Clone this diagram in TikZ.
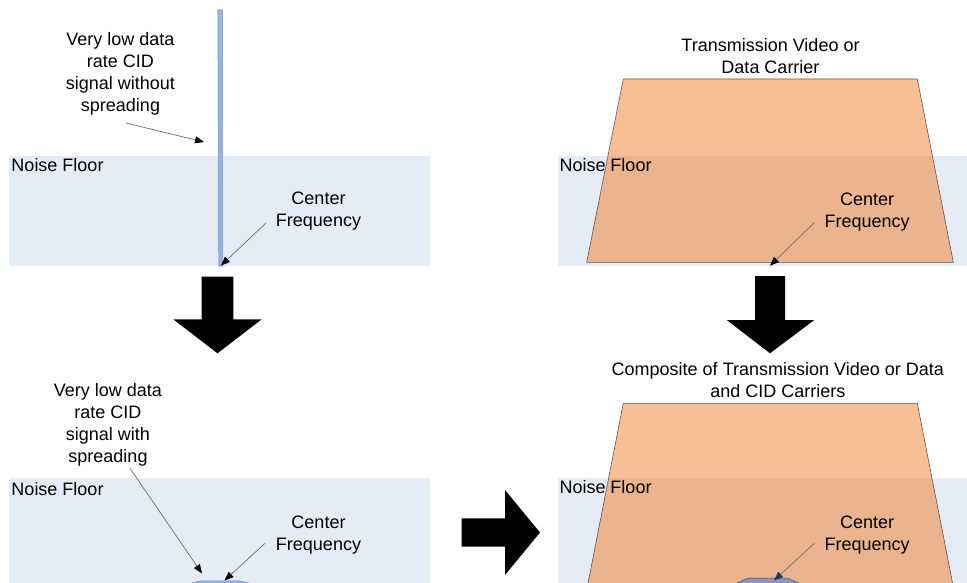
\documentclass[tikz,border=0pt]{standalone}
\usepackage{fontspec}
\setmainfont{Liberation Sans}
\usetikzlibrary{arrows.meta}
\definecolor{noise}{HTML}{E6ECF7}
\definecolor{carrier}{HTML}{F8BF94}
\definecolor{carrierdark}{HTML}{EBB48E}
\definecolor{cid}{HTML}{95B3E0}
\definecolor{cidedge}{HTML}{6F8FC4}
\definecolor{cidmix}{HTML}{8E97B5}
\definecolor{navy}{HTML}{1F3864}
\begin{document}
\begin{tikzpicture}[x=1pt,y=-1pt,
  lbl/.style={font=\fontsize{18pt}{22pt}\selectfont, inner sep=0pt, align=center, text=black},
  noisebox/.style={fill=noise, draw=none},
  leader/.style={draw=gray!85!black, line width=0.7pt, -{Triangle[length=9pt,width=7pt,color=black]}},
  leadernavy/.style={draw=gray!85!black, line width=0.7pt, -{Triangle[length=9pt,width=7pt,color=navy]}},
  carrierbox/.style={draw=gray!70!black, line width=0.6pt},
  blockarrow/.style={fill=black, draw=none}]
\useasboundingbox (0,0) rectangle (967,583);
\clip (0,0) rectangle (967,583);

% ---------- top-left panel ----------
\fill[noisebox] (9,156) rectangle (430,266);
\filldraw[fill=cid, draw=cidedge, line width=0.5pt] (217.8,10) -- (222.5,10) -- (222.3,266) -- (218.8,266) -- cycle;
\node[lbl, anchor=north] (tlsig) at (120.5,32) {Very low data\\rate CID\\signal without\\spreading};
\node[lbl, anchor=north west] (tlnoise) at (11.3,158.5) {Noise Floor};
\node[lbl, anchor=north] (tlcf) at (318.5,192) {Center\\Frequency};
\coordinate (tlsigA) at (126,123);
\coordinate (tlsigB) at (204,142);
\coordinate (tlcfA) at (266,223);
\coordinate (tlcfB) at (221,265.5);
\draw[leader] (tlsigA) -- (tlsigB);
\draw[leader] (tlcfA) -- (tlcfB);

% ---------- top-right panel ----------
\fill[noisebox] (558,156) rectangle (967,266);
\fill[carrier] (623.3,79) -- (917.3,79) -- (953.3,262.3) -- (586.7,262.3) -- cycle;
\begin{scope}
  \clip (623.3,79) -- (917.3,79) -- (953.3,262.3) -- (586.7,262.3) -- cycle;
  \fill[carrierdark] (558,156) rectangle (967,266);
\end{scope}
\draw[carrierbox] (623.3,79) -- (917.3,79) -- (953.3,262.3) -- (586.7,262.3) -- cycle;
\node[lbl, anchor=north] (trtitle) at (770.5,38.5) {Transmission Video or\\Data Carrier};
\node[lbl, anchor=north west] (trnoise) at (559.3,158.5) {Noise Floor};
\node[lbl, anchor=north] (trcf) at (867.2,192.8) {Center\\Frequency};
\coordinate (trcfA) at (814.3,222.7);
\coordinate (trcfB) at (770,265.7);
\draw[leader] (trcfA) -- (trcfB);

% ---------- block arrows ----------
\fill[blockarrow] (201.7,276.7) -- (233.3,276.7) -- (233.3,319.3) -- (261.7,319.3)
  -- (217.5,353.3) -- (173.3,319.3) -- (201.7,319.3) -- cycle;
\fill[blockarrow] (755,276) -- (785,276) -- (785,320) -- (814.3,320)
  -- (770,353.3) -- (726.7,320) -- (755,320) -- cycle;
\fill[blockarrow] (461.7,518.3) -- (505,518.3) -- (505,490) -- (540,532.5)
  -- (505,575) -- (505,546.7) -- (461.7,546.7) -- cycle;

% ---------- bottom-left panel ----------
\fill[noisebox] (9,478.3) rectangle (430,590);
\filldraw[fill=cid, draw=cidedge, line width=0.5pt] (182,586) -- (200,580.9) -- (240,580.9) -- (260,586) -- cycle;
\node[lbl, anchor=north] (blsig) at (108,382.8) {Very low data\\rate CID\\signal with\\spreading};
\node[lbl, anchor=north west] (blnoise) at (11.3,482) {Noise Floor};
\node[lbl, anchor=north] (blcf) at (318.5,516) {Center\\Frequency};
\coordinate (blsigA) at (130,468.3);
\coordinate (blsigB) at (202,573.5);
\coordinate (blcfA) at (265,543.3);
\coordinate (blcfB) at (224.5,580.5);
\draw[leader] (blsigA) -- (blsigB);
\draw[leader] (blcfA) -- (blcfB);

% ---------- bottom-right panel ----------
\fill[noisebox] (558,478.3) rectangle (967,590);
\fill[carrier] (623.3,403.3) -- (917.3,403.3) -- (953.9,590) -- (586.7,590) -- cycle;
\begin{scope}
  \clip (623.3,403.3) -- (917.3,403.3) -- (953.9,590) -- (586.7,590) -- cycle;
  \fill[carrierdark] (558,478.3) rectangle (967,590);
\end{scope}
\draw[carrierbox] (586.7,590) -- (623.3,403.3) -- (917.3,403.3) -- (953.9,590);
\filldraw[fill=cidmix, draw=navy!70!gray, line width=0.5pt] (731,586) -- (748,578) -- (787,578) -- (806,586) -- cycle;
\node[lbl, anchor=north] (brtitle) at (777.8,362.5) {Composite of Transmission Video or Data\\and CID Carriers};
\node[lbl, anchor=north west] (brnoise) at (559.3,480.5) {Noise Floor};
\node[lbl, anchor=north] (brcf) at (867.2,516) {Center\\Frequency};
\coordinate (brcfA) at (814.3,543.3);
\coordinate (brcfB) at (774,580.5);
\draw[leadernavy] (brcfA) -- (brcfB);
\end{tikzpicture}
\end{document}
